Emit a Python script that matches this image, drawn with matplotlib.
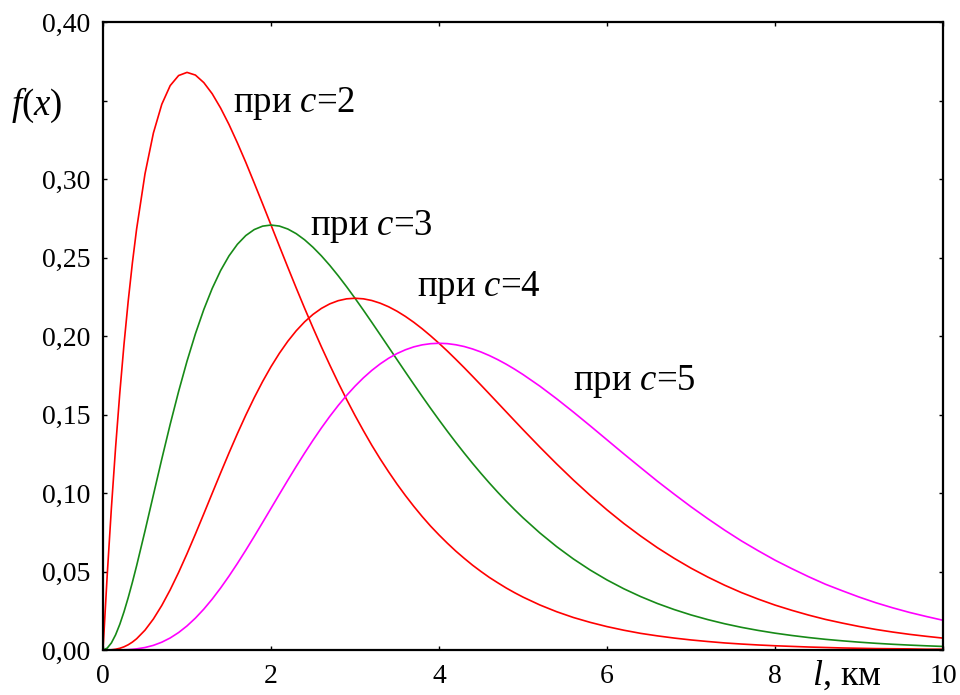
import matplotlib
matplotlib.use("Agg")
import matplotlib.pyplot as plt

plt.rcParams['font.family'] = ['Liberation Serif', 'DejaVu Serif']
plt.rcParams['mathtext.fontset'] = 'custom'
plt.rcParams['mathtext.rm'] = 'Liberation Serif'
plt.rcParams['mathtext.it'] = 'Liberation Serif:italic'

x = [0, 0.05, 0.1, 0.15, 0.2, 0.25, 0.3, 0.35, 0.4,
     0.5, 0.6, 0.7, 0.8, 0.9, 1.0,
     1.1, 1.2, 1.3, 1.4, 1.5, 1.6, 1.7, 1.8, 1.9, 2.0,
     2.1, 2.2, 2.3, 2.4, 2.5, 2.6, 2.7, 2.8, 2.9, 3.0,
     3.1, 3.2, 3.3, 3.4, 3.5, 3.6, 3.7, 3.8, 3.9, 4.0,
     4.1, 4.2, 4.3, 4.4, 4.5, 4.6, 4.7, 4.8, 4.9, 5.0,
     5.2, 5.4, 5.6, 5.8, 6.0, 6.2, 6.4, 6.6, 6.8, 7.0,
     7.2, 7.4, 7.6, 7.8, 8.0, 8.2, 8.4, 8.6, 8.8, 9.0,
     9.2, 9.4, 9.6, 9.8, 10.0]

f_c2 = [0, 0.04756, 0.0905, 0.12911, 0.1637, 0.19470, 0.2222, 0.24664, 0.2681,
        0.3033, 0.3293, 0.3476, 0.3595, 0.3659, 0.3679,
        0.3662, 0.3614, 0.3543, 0.3452, 0.3347, 0.3230, 0.3106, 0.2975, 0.2842, 0.2707,
        0.2572, 0.2438, 0.2306, 0.2177, 0.2052, 0.1931, 0.1815, 0.1703, 0.1596, 0.1494,
        0.1397, 0.1304, 0.1217, 0.1135, 0.1057, 0.0984, 0.0915, 0.0850, 0.0789, 0.0733,
        0.0680, 0.0630, 0.0584, 0.0540, 0.0500, 0.0462, 0.0428, 0.0395, 0.0365, 0.0337,
        0.0287, 0.0244, 0.0207, 0.0176, 0.0149, 0.0126, 0.0106, 0.0090, 0.0076, 0.0064,
        0.0054, 0.0045, 0.0038, 0.0032, 0.0027, 0.0023, 0.0019, 0.0016, 0.0013, 0.0011,
        0.0009, 0.0008, 0.0007, 0.0005, 0.0005]

f_c3 = [0, 0.00119, 0.00452, 0.00968, 0.01637, 0.02434, 0.03334, 0.04316, 0.05363,
        0.07582, 0.09879, 0.12166, 0.14379, 0.16466, 0.18394,
        0.20139, 0.21686, 0.23029, 0.24167, 0.25103, 0.25843, 0.26398, 0.26778, 0.26997, 0.27067,
        0.27002, 0.26814, 0.26519, 0.26127, 0.25651, 0.25105, 0.24497, 0.23838, 0.23138, 0.22404,
        0.21646, 0.20870, 0.20082, 0.19290, 0.18496, 0.17706, 0.16924, 0.16152, 0.15393, 0.14653,
        0.13930, 0.13226, 0.12545, 0.11884, 0.11248, 0.10635, 0.10046, 0.09481, 0.08940, 0.08422,
        0.07459, 0.06586, 0.05799, 0.05093, 0.04462, 0.03900, 0.03404, 0.02962, 0.02576, 0.02234,
        0.01936, 0.01673, 0.01444, 0.01247, 0.01073, 0.00925, 0.00794, 0.00680, 0.00585, 0.00500,
        0.00427, 0.00365, 0.00312, 0.00267, 0.00227]

f_c4 = [0, 0.00002, 0.00015, 0.00048, 0.00109, 0.00203, 0.00333, 0.00504, 0.00715,
        0.01264, 0.01976, 0.02839, 0.03834, 0.04940, 0.06131,
        0.07384, 0.08674, 0.09979, 0.11278, 0.12552, 0.13783, 0.14959, 0.16067, 0.17098, 0.18045,
        0.18901, 0.19664, 0.20331, 0.20902, 0.21376, 0.21758, 0.22047, 0.22249, 0.22367, 0.22404,
        0.22368, 0.22261, 0.22090, 0.21862, 0.21579, 0.21247, 0.20873, 0.20459, 0.20011, 0.19537,
        0.19038, 0.18516, 0.17981, 0.17430, 0.16872, 0.16307, 0.15739, 0.15170, 0.14602, 0.14037,
        0.12929, 0.11855, 0.10825, 0.09847, 0.08924, 0.08060, 0.07262, 0.06516, 0.05839, 0.05213,
        0.04646, 0.04127, 0.03658, 0.03242, 0.02861, 0.02528, 0.02223, 0.01949, 0.01716, 0.01500,
        0.01309, 0.01144, 0.00998, 0.00872, 0.00757]

f_c5 = [0, 0.00000, 0.00000, 0.00002, 0.00005, 0.00013, 0.00025, 0.00044, 0.00072,
        0.00158, 0.00296, 0.00497, 0.00767, 0.01112, 0.01533,
        0.02031, 0.02602, 0.03243, 0.03947, 0.04707, 0.05513, 0.06358, 0.07230, 0.08122, 0.09022,
        0.09923, 0.10815, 0.11690, 0.12541, 0.13360, 0.14143, 0.14882, 0.15574, 0.16216, 0.16803,
        0.17335, 0.17809, 0.18224, 0.18583, 0.18882, 0.19122, 0.19308, 0.19436, 0.19511, 0.19537,
        0.19514, 0.19442, 0.19330, 0.19173, 0.18981, 0.18753, 0.18493, 0.18204, 0.17887, 0.17546,
        0.16808, 0.16004, 0.15155, 0.14278, 0.13386, 0.12493, 0.11619, 0.10751, 0.09926, 0.09123,
        0.08363, 0.07635, 0.06950, 0.06322, 0.05722, 0.05182, 0.04668, 0.04190, 0.03775, 0.03375,
        0.03011, 0.02688, 0.02395, 0.02136, 0.01893]

series = [f_c2, f_c3, f_c4, f_c5]
colors = ['#ff0000', '#178a17', '#ff0000', '#ff00ff']
labels = ['при $c$=2', 'при $c$=3', 'при $c$=4', 'при $c$=5']
label_pos = [(1.55, 0.348), (2.46, 0.270), (3.74, 0.231), (5.60, 0.171)]

xticks = [0, 2, 4, 6, 8, 10]
xticklabels = ['0', '2', '4', '6', '8', '10']
yticks = [0.00, 0.05, 0.10, 0.15, 0.20, 0.25, 0.30, 0.35, 0.40]
yticklabels = ['0,00', '0,05', '0,10', '0,15', '0,20', '0,25', '0,30', '', '0,40']

fig = plt.figure(figsize=(9.6, 6.95), dpi=100)
ax = fig.add_axes([103/960, 1-650/695, 840/960, 628/695])

for y, c in zip(series, colors):
    ax.plot(x, y, color=c, lw=1.2, solid_joinstyle='round')

for lab, (lx, ly) in zip(labels, label_pos):
    ax.text(lx, ly, lab, fontsize=26.5, va='center', ha='left')

ax.set_xlim(0, 10)
ax.set_ylim(0, 0.40)
ax.set_xticks(xticks)
ax.set_xticklabels(xticklabels)
ax.set_yticks(yticks)
ax.set_yticklabels(yticklabels)
ax.tick_params(direction='in', length=3, width=1.0, labelsize=20,
               top=True, right=True)
ax.tick_params(axis='x', pad=10)
ax.tick_params(axis='y', pad=9)
for s in ax.spines.values():
    s.set_linewidth(1.6)

fig.text(37/960, 1-105/695, '$f$($x$)', fontsize=26.5, ha='center', va='center')
fig.text(812/960, 2/695, '$l$, км', fontsize=26, ha='left', va='bottom')

fig.savefig('out.png', dpi=100)
